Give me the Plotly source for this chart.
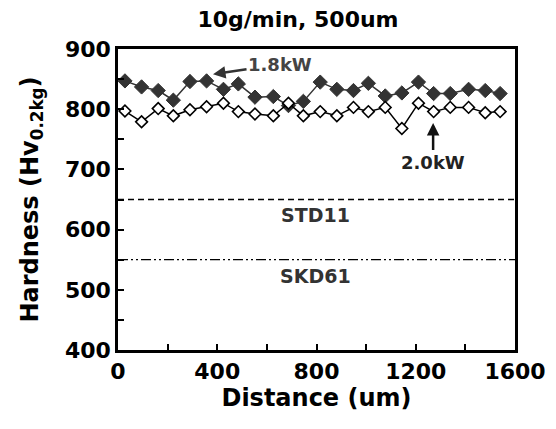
import plotly.graph_objects as go

distance = [28, 95, 162, 223, 290, 357, 425, 485, 552, 626, 687, 747,
            815, 882, 949, 1009, 1077, 1144, 1211, 1272, 1339, 1413, 1480, 1540]
hv_18kw = [847, 837, 831, 815, 846, 847, 833, 842, 820, 821, 806, 813,
           845, 833, 831, 843, 822, 827, 845, 826, 826, 833, 831, 826]
hv_20kw = [797, 779, 801, 789, 799, 804, 810, 796, 792, 789, 810, 789,
           796, 789, 803, 796, 803, 768, 810, 796, 803, 803, 794, 796]
std11_level = 650
skd61_level = 550
x_ticks = [0, 400, 800, 1200, 1600]
y_ticks = [400, 500, 600, 700, 800, 900]

FONT = "DejaVu Sans"

fig = go.Figure()
fig.add_trace(go.Scatter(
    x=distance, y=hv_18kw, mode="lines+markers",
    line=dict(color="#333333", width=1.5),
    marker=dict(symbol="diamond", size=11, color="#333333",
                line=dict(color="#333333", width=1)),
    showlegend=False))
fig.add_trace(go.Scatter(
    x=distance, y=hv_20kw, mode="lines+markers",
    line=dict(color="#000000", width=1.5),
    marker=dict(symbol="diamond", size=9, color="white",
                line=dict(color="#000000", width=1.6)),
    showlegend=False))

fig.add_shape(type="line", xref="paper", x0=0, x1=1, yref="y",
              y0=std11_level, y1=std11_level,
              line=dict(color="black", width=1.3, dash="6px,4px"))
fig.add_shape(type="line", xref="paper", x0=0, x1=1, yref="y",
              y0=skd61_level, y1=skd61_level,
              line=dict(color="black", width=1.3, dash="10px,3px,2px,3px,2px,3px"))

ann_font = dict(family=FONT, size=19, color="#333333")
fig.add_annotation(x=794, y=624, text="<b>STD11</b>", showarrow=False, font=ann_font)
fig.add_annotation(x=794, y=523, text="<b>SKD61</b>", showarrow=False, font=ann_font)
fig.add_annotation(x=383, y=858, text="<b>1.8kW</b>", showarrow=True, ax=67, ay=-10,
                   standoff=0, arrowhead=2, arrowsize=1, arrowwidth=2.5,
                   arrowcolor="#333333",
                   font=dict(family=FONT, size=18, color="#444444"))
fig.add_annotation(x=1270, y=777, text="<b>2.0kW</b>", showarrow=True, ax=0, ay=39,
                   standoff=0, arrowhead=2, arrowsize=1, arrowwidth=2.5,
                   arrowcolor="#111111",
                   font=dict(family=FONT, size=18, color="#222222"))

axis_common = dict(showline=True, linecolor="black", linewidth=2.5, mirror=True,
                   ticks="inside", ticklen=6, tickwidth=1.5, tickcolor="black",
                   showgrid=False, zeroline=False, automargin=False,
                   tickfont=dict(family=FONT, size=22, color="black", weight="bold"))

fig.update_xaxes(range=[0, 1600], tickvals=x_ticks, ticktext=[str(v) for v in x_ticks],
                 minor=dict(dtick=200, ticks="inside", ticklen=6, tickwidth=1.5, tickcolor="black"),
                 title=dict(text="<b>Distance (um)</b>", standoff=4,
                            font=dict(family=FONT, size=24, color="black")),
                 **axis_common)
fig.update_yaxes(range=[400, 900], tickvals=y_ticks, ticktext=[str(v) for v in y_ticks],
                 minor=dict(dtick=50, ticks="inside", ticklen=6, tickwidth=1.5, tickcolor="black"),
                 title=dict(text="<b>Hardness (Hv<sub>0.2kg</sub>)</b>", standoff=20,
                            font=dict(family=FONT, size=24, color="black")),
                 **axis_common)

# page body has an 8px default margin, so the figure is offset by 8px
fig.update_layout(
    width=548, height=421,
    margin=dict(l=110, r=41, t=41, b=79),
    paper_bgcolor="white", plot_bgcolor="white",
    title=dict(text="<b>10g/min, 500um</b>", x=290 / 548, xanchor="center",
               y=1 - 4 / 421, yanchor="top",
               font=dict(family=FONT, size=22, color="black")),
)

fig.write_html("out.html")
